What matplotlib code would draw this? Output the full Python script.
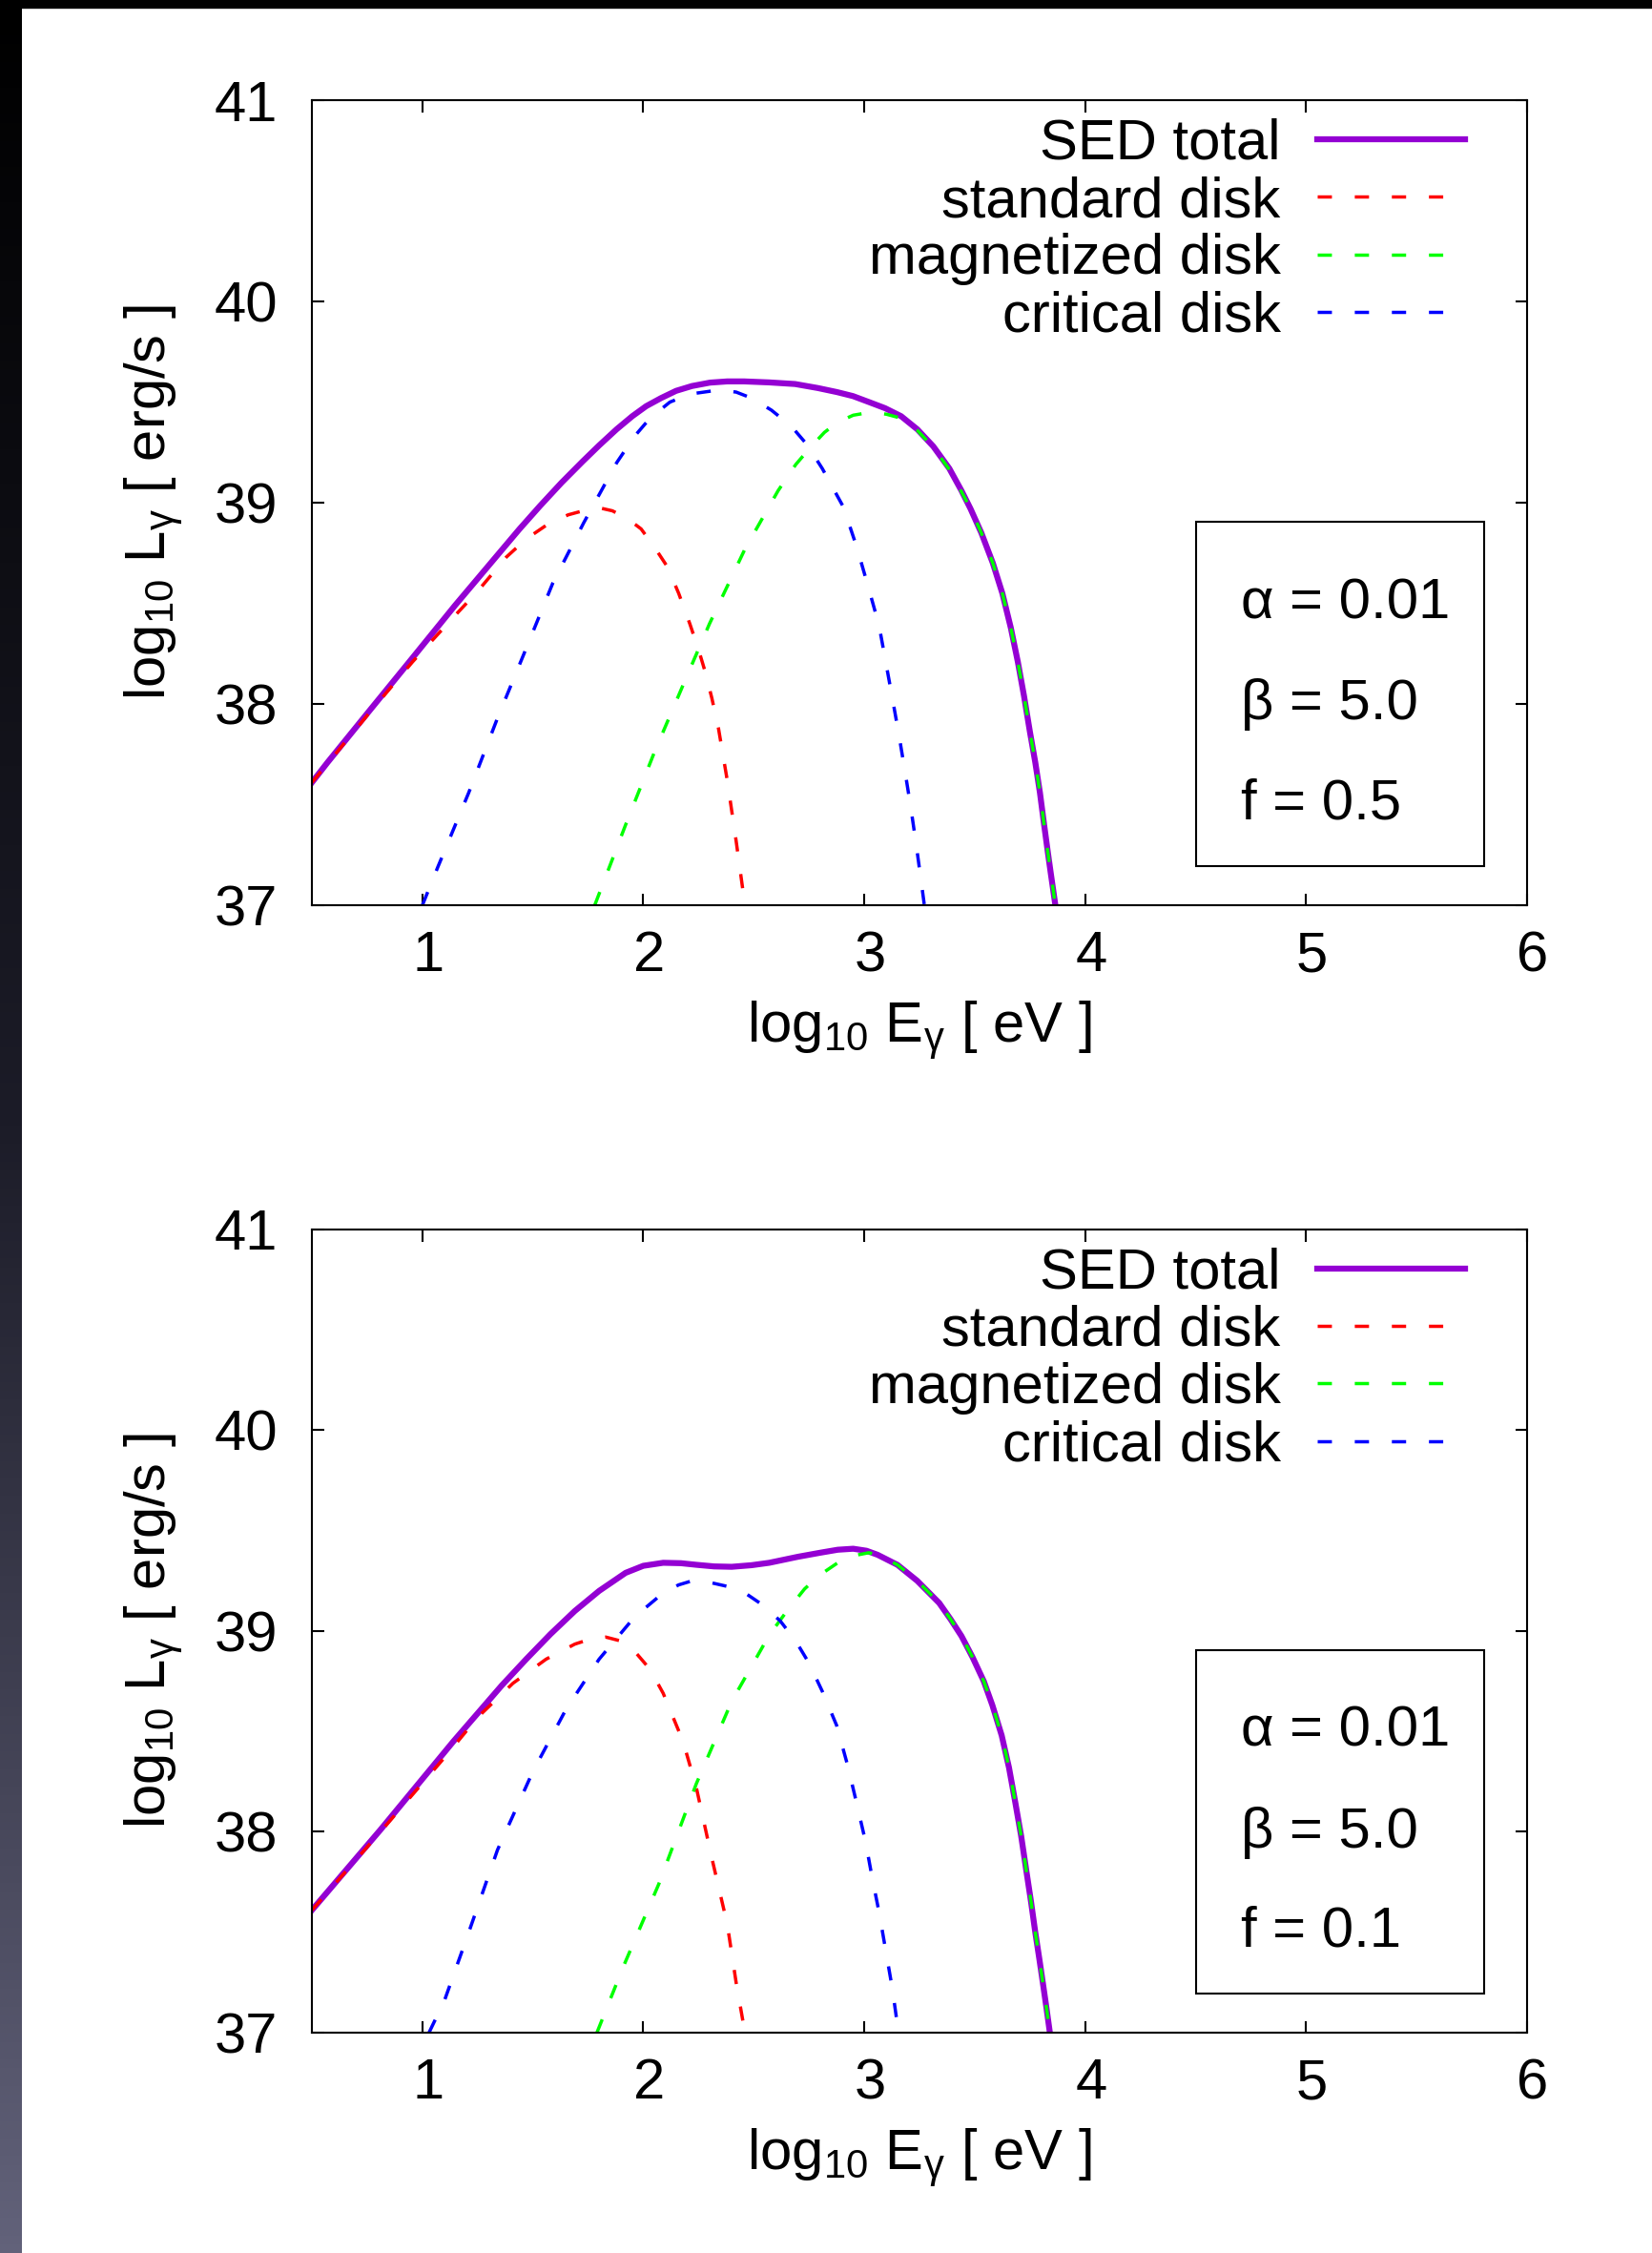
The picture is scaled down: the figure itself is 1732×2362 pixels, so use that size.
import numpy as np
import matplotlib.pyplot as plt
from matplotlib.patches import Rectangle
from matplotlib.colors import LinearSegmentedColormap
from matplotlib.transforms import ScaledTranslation

plt.rcParams['font.family'] = ['Liberation Sans', 'DejaVu Sans']
plt.rcParams['mathtext.fontset'] = 'custom'
plt.rcParams['mathtext.rm'] = 'Liberation Sans'
plt.rcParams['mathtext.it'] = 'Liberation Sans'
plt.rcParams['mathtext.bf'] = 'Liberation Sans:bold'

# ---- top panel (f = 0.5): log10 E [eV] vs log10 L [erg/s]
tot_top_x = [0.5, 0.571, 0.763, 0.956, 1.148, 1.34, 1.44, 1.533, 1.63, 1.725, 1.80, 1.879, 1.95,
             2.013, 2.08, 2.148, 2.22, 2.302, 2.38, 2.456, 2.57, 2.687, 2.79, 2.876, 2.949,
             3.022, 3.094, 3.167, 3.24, 3.3125, 3.385, 3.44, 3.481, 3.53, 3.582, 3.625, 3.663,
             3.695, 3.723, 3.75, 3.774, 3.795, 3.814, 3.83, 3.844, 3.865]
tot_top_y = [37.61, 37.71, 37.97, 38.23, 38.49, 38.74, 38.87, 38.985, 39.10, 39.205, 39.285,
             39.365, 39.43, 39.48, 39.52, 39.556, 39.58, 39.597, 39.603, 39.603, 39.598, 39.59,
             39.57, 39.55, 39.53, 39.50, 39.47, 39.43, 39.365, 39.28, 39.17, 39.06, 38.97, 38.85,
             38.70, 38.55, 38.38, 38.21, 38.04, 37.86, 37.71, 37.56, 37.40, 37.27, 37.16, 37.0]

red_top_x = [0.5, 0.763, 0.956, 1.148, 1.25, 1.38, 1.47, 1.57, 1.66, 1.76, 1.80, 1.86, 1.93, 1.99,
             2.05, 2.11, 2.16, 2.21, 2.25, 2.28, 2.31, 2.34, 2.38, 2.42, 2.46]
red_top_y = [37.61, 37.96, 38.21, 38.44, 38.56, 38.73, 38.82, 38.895, 38.94, 38.97, 38.975, 38.96,
             38.92, 38.87, 38.78, 38.68, 38.55, 38.40, 38.27, 38.16, 38.03, 37.88, 37.62, 37.32,
             37.0]

green_top_x = [1.78, 1.92, 2.05, 2.19, 2.30, 2.46, 2.61, 2.69, 2.76, 2.82, 2.88, 2.95, 3.03, 3.10,
               3.167, 3.24, 3.3125, 3.385, 3.44, 3.481, 3.53, 3.582, 3.625, 3.663, 3.695, 3.723,
               3.75, 3.774, 3.795, 3.814, 3.83, 3.844, 3.865]
green_top_y = [37.0, 37.40, 37.76, 38.12, 38.40, 38.77, 39.06, 39.19, 39.28, 39.35, 39.40, 39.435,
               39.45, 39.44, 39.42, 39.36, 39.275, 39.165, 39.055, 38.97, 38.85, 38.70, 38.55,
               38.38, 38.21, 38.04, 37.86, 37.71, 37.56, 37.40, 37.27, 37.16, 37.0]

blue_top_x = [1.0, 1.07, 1.21, 1.34, 1.46, 1.59, 1.73, 1.88, 1.96, 2.03, 2.12, 2.21, 2.34, 2.42,
              2.49, 2.58, 2.67, 2.74, 2.81, 2.86, 2.905, 2.966, 3.016, 3.067, 3.097, 3.127, 3.158,
              3.188, 3.21, 3.234, 3.255, 3.272]
blue_top_y = [37.0, 37.19, 37.56, 37.93, 38.25, 38.60, 38.90, 39.20, 39.33, 39.42, 39.50, 39.54,
              39.56, 39.55, 39.52, 39.46, 39.38, 39.29, 39.17, 39.07, 38.98, 38.78, 38.59, 38.39,
              38.21, 38.03, 37.84, 37.64, 37.49, 37.31, 37.14, 37.0]

# ---- bottom panel (f = 0.1)
tot_bot_x = [0.5, 0.81, 1.14, 1.36, 1.47, 1.58, 1.69, 1.80, 1.92, 2.0, 2.09, 2.17, 2.24, 2.32,
             2.40, 2.49, 2.57, 2.70, 2.80, 2.88, 2.95, 3.01, 3.06, 3.15, 3.24, 3.339, 3.39, 3.44,
             3.49, 3.541, 3.58, 3.622, 3.655, 3.683, 3.71, 3.733, 3.755, 3.774, 3.792, 3.808,
             3.825, 3.84]
tot_bot_y = [37.61, 38.01, 38.45, 38.73, 38.86, 38.985, 39.10, 39.20, 39.29, 39.325, 39.34,
             39.338, 39.33, 39.322, 39.32, 39.328, 39.34, 39.37, 39.39, 39.405, 39.41, 39.40,
             39.38, 39.33, 39.25, 39.14, 39.06, 38.975, 38.87, 38.75, 38.63, 38.48, 38.32, 38.15,
             37.98, 37.81, 37.65, 37.50, 37.37, 37.25, 37.12, 37.0]

red_bot_x = [0.5, 0.81, 1.1, 1.25, 1.41, 1.56, 1.69, 1.76, 1.83, 1.90, 1.96, 2.03, 2.09, 2.18,
             2.24, 2.31, 2.38, 2.42, 2.46]
red_bot_y = [37.61, 38.0, 38.37, 38.57, 38.74, 38.86, 38.935, 38.96, 38.97, 38.95, 38.90, 38.81,
             38.69, 38.45, 38.22, 37.87, 37.54, 37.25, 37.0]

green_bot_x = [1.79, 1.91, 2.07, 2.24, 2.40, 2.57, 2.65, 2.73, 2.80, 2.88, 2.95, 3.02, 3.06, 3.15,
               3.24, 3.339, 3.39, 3.44, 3.49, 3.541, 3.58, 3.622, 3.655, 3.683, 3.71, 3.733,
               3.755, 3.774, 3.792, 3.808, 3.825, 3.84]
green_bot_y = [37.0, 37.33, 37.74, 38.24, 38.65, 38.98, 39.10, 39.21, 39.28, 39.34, 39.375, 39.39,
               39.38, 39.33, 39.25, 39.14, 39.06, 38.975, 38.87, 38.75, 38.63, 38.48, 38.32,
               38.15, 37.98, 37.81, 37.65, 37.50, 37.37, 37.25, 37.12, 37.0]

blue_bot_x = [1.03, 1.10, 1.21, 1.34, 1.50, 1.65, 1.80, 1.96, 2.09, 2.16, 2.22, 2.31, 2.39, 2.46,
              2.54, 2.62, 2.69, 2.75, 2.81, 2.875, 2.925, 2.966, 3.006, 3.036, 3.067, 3.097, 3.127,
              3.155]
blue_bot_y = [37.0, 37.16, 37.50, 37.91, 38.30, 38.61, 38.86, 39.07, 39.19, 39.23, 39.25, 39.24,
              39.22, 39.19, 39.13, 39.05, 38.95, 38.84, 38.70, 38.53, 38.33, 38.14, 37.95, 37.77,
              37.60, 37.41, 37.22, 37.0]

params_top = ['α = 0.01', 'β = 5.0', 'f = 0.5']
params_bot = ['α = 0.01', 'β = 5.0', 'f = 0.1']

x_ticks = [1, 2, 3, 4, 5, 6]
y_ticks = [37, 38, 39, 40, 41]

FS = 43
dash = (0, (4.3, 6.9))

fig = plt.figure(figsize=(17.32, 23.62), dpi=100)

# dark slide border (left gradient + top strip)
border = fig.add_axes([0, 0, 23 / 1732, 1])
cmap = LinearSegmentedColormap.from_list('edge', ['#000000', '#1c1c28', '#62627a'])
border.imshow(np.linspace(0, 1, 256)[:, None], aspect='auto', cmap=cmap)
border.axis('off')
fig.patches.append(Rectangle((0, 1 - 8 / 2362), 1, 8 / 2362, transform=fig.transFigure,
                             color='black', zorder=10))


def draw_panel(ax, tot, red, green, blue, params):
    ax.plot(tot[0], tot[1], color='#9400d3', lw=4.5, label='SED total')
    ax.plot(red[0], red[1], color='#ff0000', lw=2.5, ls=dash, label='standard disk')
    ax.plot(green[0], green[1], color='#00ff00', lw=2.5, ls=dash, label='magnetized disk')
    ax.plot(blue[0], blue[1], color='#0000ff', lw=2.5, ls=dash, label='critical disk')

    ax.set_xlim(0.5, 6)
    ax.set_ylim(37, 41)
    ax.set_xticks(x_ticks)
    ax.set_yticks(y_ticks)
    ax.tick_params(direction='in', length=9, width=1.5, top=True, right=True, labelsize=FS)
    ax.tick_params(axis='x', pad=19)
    ax.tick_params(axis='y', pad=26)
    shift = ScaledTranslation(0.06, 0, fig.dpi_scale_trans)
    for lab in ax.get_xticklabels():
        lab.set_transform(lab.get_transform() + shift)
    for s in ax.spines.values():
        s.set_linewidth(1.5)

    ax.set_xlabel(r'log$_{10}$ E$_{\gamma}$ [ eV ]', fontsize=FS, labelpad=12)
    ax.set_ylabel(r'log$_{10}$ L$_{\gamma}$ [ erg/s ]', fontsize=FS, labelpad=22)

    ax.legend(loc='upper right', bbox_to_anchor=(0.949, 0.978), frameon=False, markerfirst=False,
              fontsize=FS, handlelength=2.6, handletextpad=0.64, labelspacing=0.09,
              borderpad=0, borderaxespad=0)

    ax.add_patch(Rectangle((0.7276, 0.0486), 0.2371, 0.4277, transform=ax.transAxes,
                           fill=False, lw=1.5, ec='black'))
    for txt, yy in zip(params, [0.375, 0.249, 0.126]):
        ax.text(0.7645, yy, txt, transform=ax.transAxes, fontsize=FS, va='center', ha='left')


ax1 = fig.add_axes([0.1888, 0.5982, 0.7356, 0.3573])
draw_panel(ax1, (tot_top_x, tot_top_y), (red_top_x, red_top_y), (green_top_x, green_top_y),
           (blue_top_x, blue_top_y), params_top)

ax2 = fig.add_axes([0.1888, 0.0978, 0.7356, 0.3565])
draw_panel(ax2, (tot_bot_x, tot_bot_y), (red_bot_x, red_bot_y), (green_bot_x, green_bot_y),
           (blue_bot_x, blue_bot_y), params_bot)

fig.savefig('out.png', dpi=100)
